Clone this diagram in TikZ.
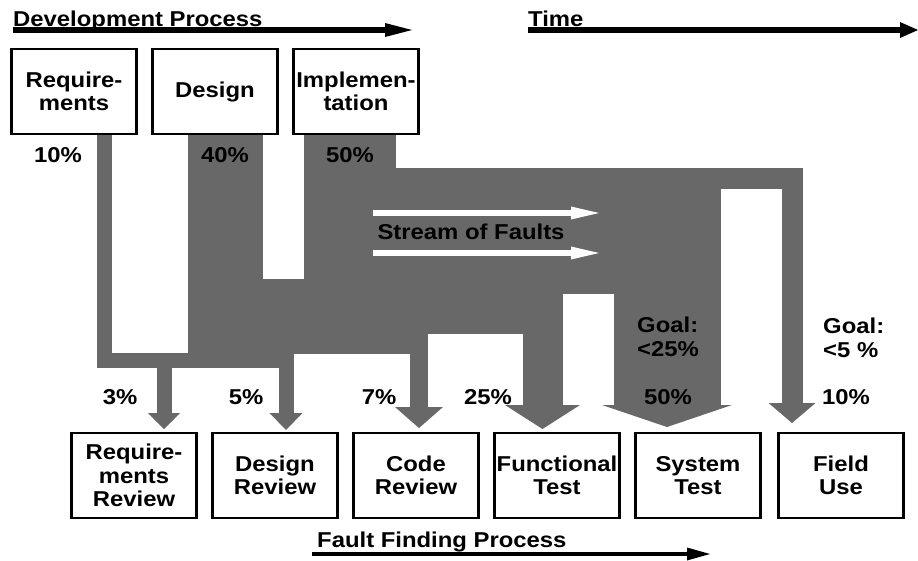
\documentclass[tikz,border=0pt]{standalone}
\usepackage{fontspec}
\setmainfont{Liberation Sans}[FakeStretch=1.11]
\usetikzlibrary{positioning,arrows.meta,backgrounds}
\definecolor{streamgray}{RGB}{104,104,104}

\begin{document}
\begin{tikzpicture}[
	x=1pt, y=-1pt,
	font=\fontsize{21.5}{23.5}\selectfont\bfseries,
	phasenode/.style={rectangle, draw=black, fill=white, line width=2.6pt, outer sep=0pt, minimum width=125pt, minimum height=85pt, inner sep=0pt, align=center},
	textnode/.style={inner sep=0pt},
	streambody/.style={draw=streamgray, line join=miter},
	stream/.style 2 args={draw=streamgray, line join=miter, -{Triangle[length=#1,width=#2,line width=0pt]}},
	timeline/.style={line width=6pt, -{Triangle[length=27pt,width=14pt,line width=0pt]}},
	faultarrow/.style={draw=white, line width=5.5pt, -{Triangle[length=28pt,width=13pt,line width=0pt]}},
	]
	
	\useasboundingbox (0,0) rectangle (918,560);
	
	%Nodes
	\node[phasenode]	(req)		at (74,91.5)				{Require-\\ments};
	\node[phasenode]	(design)	[right=16pt of req]		{Design};
	\node[phasenode]	(impl)		[right=16pt of design]	{Implemen-\\tation};
	
	\node[phasenode]	(reqrev)	at (134,475.5)			{Require-\\ments\\Review};
	\node[phasenode]	(desrev)	[right=16pt of reqrev]		{Design\\Review};
	\node[phasenode]	(coderev)	[right=16pt of desrev]		{Code\\Review};
	\node[phasenode]	(functest)	[right=16pt of coderev]	{Functional\\Test};
	\node[phasenode]	(systest)	[right=16pt of functest]	{System\\Test};
	\node[phasenode]	(fielduse)	[right=18pt of systest]	{Field\\Use};
	
	%Streams
	\begin{pgfonlayer}{background}
	\draw[stream={16pt}{32pt}, line width=15pt]	([xshift=30pt]req.south) |- (164,360.5) -- ([xshift=30pt,yshift=4pt]reqrev.north);
	\draw[stream={17pt}{33pt}, line width=15pt]	([xshift=30pt]req.south) |- (286,360.5) -- ([xshift=11pt,yshift=3pt]desrev.north);
	
	\draw[streambody, line width=75pt]			([xshift=10.5pt]design.south) |- (428,316.5);
	\draw[stream={21pt}{48pt}, line width=18pt]	([xshift=10.5pt]design.south) |- (419,345) -- ([xshift=3pt,yshift=5pt]coderev.north);
	\draw[stream={24pt}{75pt}, line width=40pt]	([xshift=10.5pt]design.south) |- (542.5,314) -- ([xshift=-14.5pt,yshift=4pt]functest.north);
	
	\draw[streambody, line width=91pt]			([xshift=-6.5pt]impl.south) -- ++(0,166);
	\draw[stream={22pt}{130pt}, line width=107pt]	([yshift=-106pt]impl.south) -| ([xshift=-31pt,yshift=6pt]systest.north);
	\draw[stream={20pt}{47pt}, line width=21pt]	([xshift=29pt]impl.south) |- (792,178) -- ([xshift=-49pt,yshift=10pt]fielduse.north);
	\end{pgfonlayer}
	
	%Labels
	\node[textnode]	(pctreq)	at (58,155)		{10\%};
	\node[textnode]	(pctdes)	at (225,155)	{40\%};
	\node[textnode]	(pctimpl)	at (350,155)	{50\%};
	
	\node[textnode]	(pctreqrev)	at (120,397)	{3\%};
	\node[textnode]	(pctdesrev)	at (246,397)	{5\%};
	\node[textnode]	(pctcode)	at (379,397)	{7\%};
	\node[textnode]	(pctfunc)	at (488,397)	{25\%};
	\node[textnode]	(pctsys)	at (668,397)	{50\%};
	\node[textnode]	(pctfield)	at (846,397)	{10\%};
	
	\node[textnode, anchor=north west, align=left]	(goalsys)	at (637,317)	{Goal:\\<25\%};
	\node[textnode, anchor=north west, align=left]	(goalfield)	at (823,318)	{Goal:\\<5 \%};
	
	\node[textnode]	(faults)	at (471,232)	{Stream of Faults};
	
	\node[textnode, anchor=base west]	(devproc)	at (13,26)		{Development Process};
	\node[textnode, anchor=base west]	(time)		at (528,26)		{Time};
	\node[textnode, anchor=base west]	(findproc)	at (317,547)	{Fault Finding Process};
	
	%Arrows
	\draw[faultarrow]	(373,213) -- (599,213);
	\draw[faultarrow]	(373,253) -- (599,253);
	
	\draw[timeline]	(13,30) -- (412,30);
	\draw[timeline, -{Triangle[length=18pt,width=16pt,line width=0pt]}]	(528,30) -- (918,30);
	\draw[timeline, line width=4.5pt, -{Triangle[length=23pt,width=13pt,line width=0pt]}]	(312,554) -- (710,554);
	
\end{tikzpicture}
\end{document}
